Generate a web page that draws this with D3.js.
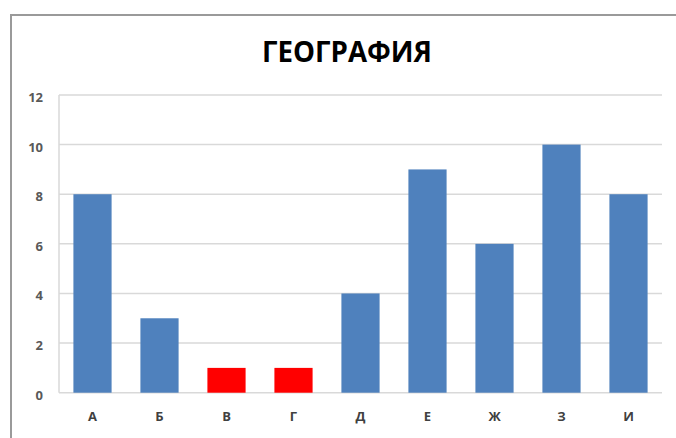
<!DOCTYPE html>
<html>
<head>
<meta charset="utf-8">
<script src="https://cdn.jsdelivr.net/npm/d3@7"></script>
<style>
  body { margin: 0; background: #fff; }
  text { font-family: "Open Sans", "Noto Sans", sans-serif; }
</style>
</head>
<body>
<div id="chart"></div>
<script>
// chart data
var categories = ["А", "Б", "В", "Г", "Д", "Е", "Ж", "З", "И"];
var values = [8, 3, 1, 1, 4, 9, 6, 10, 8];
var highlighted = ["В", "Г"];
var yTicks = [0, 2, 4, 6, 8, 10, 12];
var title = "ГЕОГРАФИЯ";

var svgWidth = 676;
var svgHeight = 438;

var margin = { top: 95, right: 14, bottom: 45, left: 59 };
var chartWidth = svgWidth - margin.left - margin.right;
var chartHeight = 392.7 - margin.top;

var svg = d3.select("#chart").append("svg")
  .attr("width", svgWidth)
  .attr("height", svgHeight);

// outer frame of the chart area
svg.append("path")
  .attr("d", "M11,440 L11,15 L680,15")
  .attr("fill", "none")
  .attr("stroke", "#9a9a9a")
  .attr("stroke-width", 2);

svg.append("text")
  .attr("x", 347)
  .attr("y", 62)
  .attr("text-anchor", "middle")
  .attr("font-size", "28px")
  .attr("font-weight", "bold")
  .attr("fill", "#000")
  .attr("textLength", 170)
  .attr("lengthAdjust", "spacingAndGlyphs")
  .text(title);

var chartGroup = svg.append("g")
  .attr("transform", `translate(${margin.left}, ${margin.top})`);

var x = d3.scaleBand()
  .domain(categories)
  .range([0, chartWidth])
  .paddingInner(0.43)
  .paddingOuter(0.215);

var y = d3.scaleLinear()
  .domain([0, 12])
  .range([chartHeight, 0]);

// gridlines
chartGroup.append("g")
  .selectAll("line")
  .data(yTicks)
  .enter()
  .append("line")
  .attr("x1", 0)
  .attr("x2", chartWidth)
  .attr("y1", d => y(d))
  .attr("y2", d => y(d))
  .attr("stroke", "#d9d9d9")
  .attr("stroke-width", 1.5);

// left axis line
chartGroup.append("line")
  .attr("x1", 0).attr("x2", 0)
  .attr("y1", 0).attr("y2", chartHeight)
  .attr("stroke", "#d9d9d9")
  .attr("stroke-width", 1.5);

var leftAxis = d3.axisLeft(y).tickValues(yTicks).tickSize(0).tickPadding(16);
var yAxisG = chartGroup.append("g").call(leftAxis);
yAxisG.select(".domain").remove();
yAxisG.selectAll("text")
  .attr("font-size", "13px")
  .attr("font-weight", "bold")
  .attr("fill", "#595959")
  .attr("font-family", "\"Open Sans\", sans-serif")
  .attr("dy", "0.5em");

var bottomAxis = d3.axisBottom(x).tickSize(0).tickPadding(19);
var xAxisG = chartGroup.append("g")
  .attr("transform", `translate(0, ${chartHeight})`)
  .call(bottomAxis);
xAxisG.select(".domain").remove();
xAxisG.selectAll("text")
  .attr("font-size", "13px")
  .attr("font-weight", "bold")
  .attr("fill", "#404040")
  .attr("font-family", "\"Open Sans\", sans-serif");

chartGroup.selectAll("rect.bar")
  .data(values)
  .enter()
  .append("rect")
  .attr("class", "bar")
  .attr("x", (d, i) => x(categories[i]))
  .attr("y", d => y(d))
  .attr("width", x.bandwidth())
  .attr("height", d => chartHeight - y(d))
  .attr("fill", (d, i) => highlighted.includes(categories[i]) ? "#ff0000" : "#4f81bd");
</script>
</body>
</html>
